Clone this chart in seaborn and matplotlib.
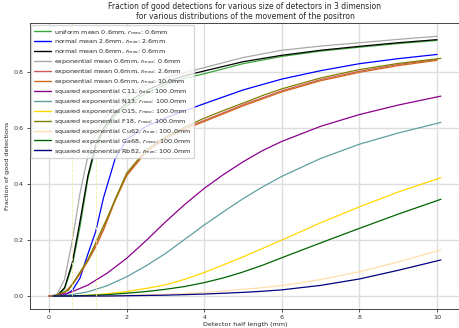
import numpy as np
import pandas as pd
import matplotlib
matplotlib.use("Agg")
import matplotlib.pyplot as plt
import seaborn as sns

# x positions (mm) for the first group of distributions
x_a = [0, 0.2, 0.4, 0.6, 0.8, 1.0, 1.2, 1.4, 1.7, 2.0, 2.5, 3.0, 3.5, 4.0, 5.0, 6.0, 7.0, 8.0, 9.0, 10.0]
uniform_06 = [0, 0.0, 0.025, 0.11, 0.25, 0.42, 0.53, 0.59, 0.645, 0.68, 0.725, 0.757, 0.779, 0.795, 0.831, 0.857, 0.876, 0.890, 0.903, 0.914]
normal_26 = [0, 0.0, 0.003, 0.02, 0.065, 0.15, 0.23, 0.35, 0.49, 0.56, 0.607, 0.637, 0.663, 0.688, 0.737, 0.776, 0.806, 0.831, 0.849, 0.864]
normal_06 = [0, 0.0, 0.03, 0.12, 0.27, 0.43, 0.54, 0.60, 0.655, 0.69, 0.735, 0.765, 0.788, 0.805, 0.838, 0.861, 0.879, 0.893, 0.906, 0.917]
exp_06_06 = [0, 0.005, 0.06, 0.2, 0.37, 0.5, 0.58, 0.63, 0.68, 0.715, 0.755, 0.78, 0.80, 0.817, 0.853, 0.879, 0.894, 0.906, 0.918, 0.929]
exp_06_26 = [0, 0.002, 0.013, 0.042, 0.083, 0.128, 0.179, 0.24, 0.345, 0.434, 0.519, 0.567, 0.601, 0.628, 0.684, 0.734, 0.774, 0.804, 0.828, 0.846]
exp_06_10 = [0, 0.002, 0.012, 0.04, 0.08, 0.125, 0.175, 0.235, 0.34, 0.43, 0.515, 0.563, 0.597, 0.624, 0.68, 0.73, 0.77, 0.80, 0.824, 0.843]

# x positions (mm) for the squared exponential isotopes
x_b = [0.1, 0.5, 1.0, 1.5, 2.0, 2.5, 3.0, 3.5, 4.0, 4.5, 5.0, 5.5, 6.0, 7.0, 8.0, 9.0, 10.1]
sq_c11 = [0, 0.01, 0.039, 0.082, 0.135, 0.198, 0.265, 0.328, 0.385, 0.435, 0.48, 0.52, 0.553, 0.607, 0.649, 0.683, 0.715]
sq_n13 = [0, 0.003, 0.015, 0.037, 0.069, 0.108, 0.152, 0.203, 0.254, 0.302, 0.348, 0.39, 0.428, 0.492, 0.543, 0.583, 0.621]
sq_o15 = [0, 0.0, 0.003, 0.008, 0.016, 0.027, 0.04, 0.06, 0.084, 0.112, 0.14, 0.17, 0.2, 0.262, 0.319, 0.372, 0.423]
sq_f18 = [0, 0.02, 0.13, 0.28, 0.44, 0.522, 0.57, 0.605, 0.636, 0.664, 0.69, 0.717, 0.741, 0.78, 0.81, 0.832, 0.85]
sq_cu62 = [0, 0.0, 0.0, 0.001, 0.002, 0.004, 0.006, 0.009, 0.013, 0.018, 0.024, 0.03, 0.037, 0.059, 0.087, 0.122, 0.165]
sq_ga68 = [0, 0.0, 0.002, 0.005, 0.01, 0.016, 0.024, 0.034, 0.048, 0.065, 0.086, 0.11, 0.137, 0.19, 0.242, 0.293, 0.346]
sq_rb82 = [0, 0.0, 0.0, 0.0, 0.001, 0.002, 0.003, 0.005, 0.007, 0.01, 0.013, 0.017, 0.022, 0.038, 0.061, 0.092, 0.129]

labels = [
    r"uniform mean 0.6mm, $r_{max}$: 0.6mm",
    r"normal mean 2.6mm, $r_{max}$: 2.6mm",
    r"normal mean 0.6mm, $r_{max}$: 0.6mm",
    r"exponential mean 0.6mm, $r_{max}$: 0.6mm",
    r"exponential mean 0.6mm, $r_{max}$: 2.6mm",
    r"exponential mean 0.6mm, $r_{max}$: 10.0mm",
    r"squared exponential C11, $r_{max}$: 100.0mm",
    r"squared exponential N13, $r_{max}$: 100.0mm",
    r"squared exponential O15, $r_{max}$: 100.0mm",
    r"squared exponential F18, $r_{max}$: 100.0mm",
    r"squared exponential Cu62, $r_{max}$: 100.0mm",
    r"squared exponential Ga68, $r_{max}$: 100.0mm",
    r"squared exponential Rb82, $r_{max}$: 100.0mm",
]
series = [uniform_06, normal_26, normal_06, exp_06_06, exp_06_26, exp_06_10,
          sq_c11, sq_n13, sq_o15, sq_f18, sq_cu62, sq_ga68, sq_rb82]
xs = [x_a] * 6 + [x_b] * 7
colors = ["#3aa83a", "blue", "black", "darkgray", "indianred", "chocolate",
          "darkmagenta", "cadetblue", "gold", "olive", "navajowhite", "darkgreen", "navy"]
dashed_x = [0.6, 1.2]

sns.set_theme(style="whitegrid")
plt.rcParams["font.family"] = ["DejaVu Sans"]
plt.rcParams["mathtext.fontset"] = "dejavusans"

fig = plt.figure(figsize=(4.59, 3.28), dpi=100)
ax = fig.add_axes([29.5 / 459, 1 - 309 / 328, 431 / 459, (309 - 23.3) / 328])

for xv, yv, c, lab in zip(xs, series, colors, labels):
    sns.lineplot(x=xv, y=yv, color=c, label=lab, ax=ax, linewidth=0.9)

for xd in dashed_x:
    ax.axvline(xd, color="#f0eca8", linestyle="--", linewidth=0.6)

ax.set_xticks([0, 2, 4, 6, 8, 10])
ax.set_yticks([0.0, 0.2, 0.4, 0.6, 0.8])
ax.tick_params(labelsize=4.6, length=2, width=0.6, pad=2, colors="#333333")
ax.tick_params(axis="both", which="both", bottom=True, left=True)
ax.grid(True, color="#dddddd", linewidth=1.0)
for s in ax.spines.values():
    s.set_color("#444444")
    s.set_linewidth(0.7)

ax.set_xlabel("Detector half length (mm)", fontsize=4.6, labelpad=2)
ax.set_ylabel("Fraction of good detections", fontsize=4.6, labelpad=3)
ax.set_title("Fraction of good detections for various size of detectors in 3 dimension\n"
             "for various distributions of the movement of the positron",
             fontsize=5.5, pad=3, linespacing=1.1)

leg = ax.legend(loc="upper left", fontsize=4.6, frameon=True, framealpha=0.8,
                edgecolor="#cccccc", handlelength=2.6, labelspacing=0.15,
                borderpad=0.4, handletextpad=0.5, borderaxespad=0.3)
for line in leg.get_lines():
    line.set_linewidth(1.0)

fig.savefig("out.png", dpi=100)
